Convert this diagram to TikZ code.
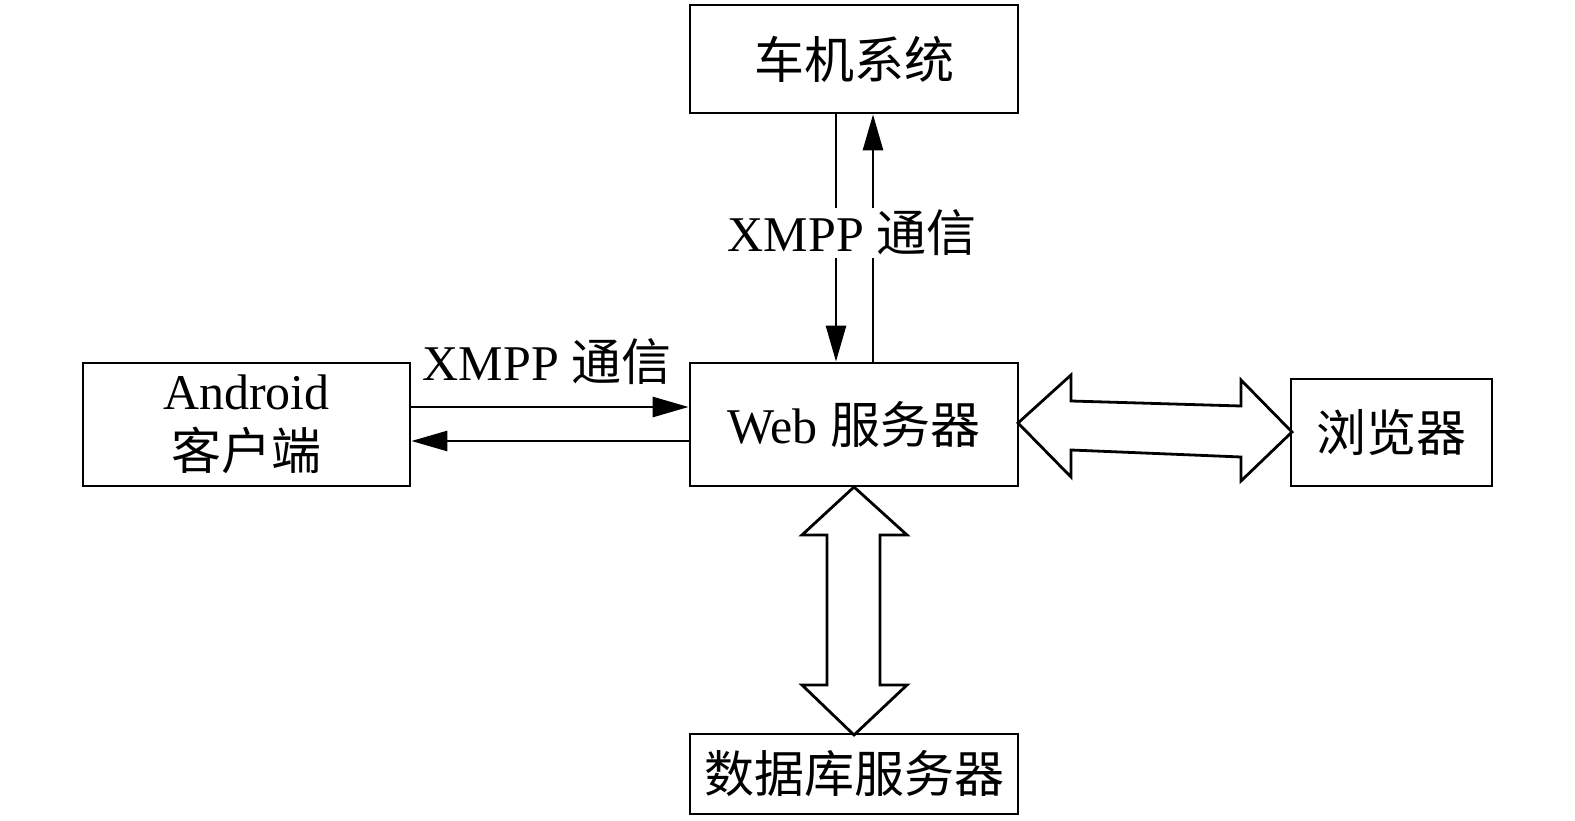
\documentclass[tikz,border=0pt]{standalone}
\usepackage{fontspec}
\setmainfont{Liberation Serif}
\newfontfamily\cjk{Noto Sans CJK SC}
\usetikzlibrary{arrows.meta}
\begin{document}
\begin{tikzpicture}[x=1pt,y=-1pt,
  box/.style={draw=black,line width=2.8pt,inner sep=0pt,align=center,
    font=\fontsize{50}{58}\selectfont},
  lbl/.style={inner sep=2pt,font=\fontsize{50}{58}\selectfont},
  conn/.style={line width=2.8pt,-{Triangle[length=36pt,width=20pt]}},
  fat/.style={draw=black,line width=2.8pt,fill=white,line join=miter}]
\useasboundingbox (0,0) rectangle (1575,821);
\fill[white] (0,0) rectangle (1575,821);
\node[box,minimum width=328pt,minimum height=108pt] (car) at (854,59) {\cjk 车机系统};
\node[box,minimum width=328pt,minimum height=123pt] (web) at (854,424.5) {Web {\cjk 服务器}};
\node[box,minimum width=327pt,minimum height=123pt] (android) at (246.5,424.5) {Android\\[2pt]{\cjk 客户端}};
\node[box,minimum width=201pt,minimum height=107pt] (browser) at (1391.5,432.5) {\cjk 浏览器};
\node[box,minimum width=328pt,minimum height=80pt] (db) at (854,774) {\cjk 数据库服务器};
% Android <-> Web
\draw[conn] (android.east |- 0,407) -- (web.west |- 0,407);
\draw[conn] (web.west |- 0,441) -- (android.east |- 0,441);
\node[lbl] (l1) at (547,362) {XMPP {\cjk 通信}};
% car <-> Web
\draw[conn] (car.south -| 836,0) -- (web.north -| 836,0);
\draw[conn] (web.north -| 873,0) -- (car.south -| 873,0);
\node[lbl,fill=white,inner xsep=0pt] (l2) at (852,233) {XMPP {\cjk 通信}};
% fat arrows
\draw[fat] (1018,423) -- (1071,375) -- (1071,401) -- (1241,406) -- (1241,380) -- (1292,432)
  -- (1241,481) -- (1241,457) -- (1071,450) -- (1071,477) -- cycle;
\draw[fat] (854,487) -- (907,535) -- (880,535) -- (880,685) -- (907,685) -- (854,735)
  -- (802,685) -- (827,685) -- (827,535) -- (802,535) -- cycle;
\end{tikzpicture}
\end{document}
